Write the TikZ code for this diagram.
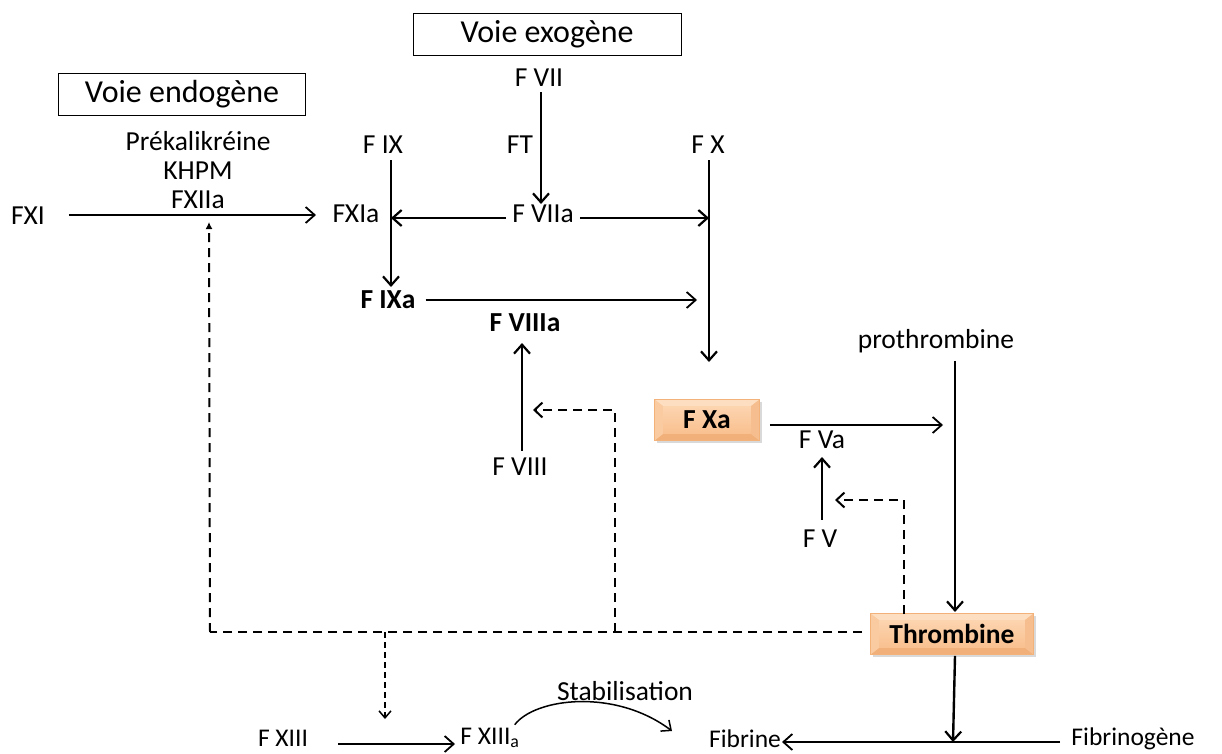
\documentclass[tikz,border=0pt]{standalone}
\usepackage{fontspec}
\setmainfont{Carlito}
\usetikzlibrary{arrows.meta,shadows}
\definecolor{bevT}{RGB}{253,222,192}
\definecolor{bevL}{RGB}{250,203,160}
\definecolor{bevR}{RGB}{246,190,142}
\definecolor{bevB}{RGB}{241,176,122}
\definecolor{faceT}{RGB}{252,212,175}
\definecolor{faceB}{RGB}{249,192,143}
\definecolor{edge}{RGB}{242,178,122}
\begin{document}
\begin{tikzpicture}[x=1pt,y=-1pt,
  lbl/.style={font=\fontsize{27.5}{30}\selectfont, inner sep=0pt},
  blbl/.style={font=\bfseries\fontsize{27.5}{30}\selectfont, inner sep=0pt},
  cal/.style={font=\fontsize{25.5}{28}\selectfont, inner sep=0pt},
  titlebox/.style={draw, line width=1pt, font=\fontsize{32}{34}\selectfont, minimum height=42pt, inner xsep=10pt},
  obox/.style={top color=faceT, bottom color=faceB, draw=edge, line width=0.8pt, minimum height=41pt,
     drop shadow={opacity=0.3,shadow xshift=2pt,shadow yshift=-2.5pt},
     path picture={
       \path (path picture bounding box.north west) coordinate (nw) (path picture bounding box.south east) coordinate (se)
             (path picture bounding box.north east) coordinate (ne) (path picture bounding box.south west) coordinate (sw);
       \fill[bevT] (nw) -- (ne) -- ([xshift=-9pt,yshift=-7pt]ne) -- ([xshift=9pt,yshift=-7pt]nw) -- cycle;
       \fill[bevB] (sw) -- (se) -- ([xshift=-9pt,yshift=7pt]se) -- ([xshift=9pt,yshift=7pt]sw) -- cycle;
       \fill[bevL] (nw) -- (sw) -- ([xshift=9pt,yshift=7pt]sw) -- ([xshift=9pt,yshift=-7pt]nw) -- cycle;
       \fill[bevR] (ne) -- (se) -- ([xshift=-9pt,yshift=7pt]se) -- ([xshift=-9pt,yshift=-7pt]ne) -- cycle;
       \shade[top color=faceT, bottom color=faceB] ([xshift=9pt,yshift=-7pt]nw) rectangle ([xshift=-9pt,yshift=7pt]se);
     }},
  arr/.style={-{Straight Barb[length=9pt,width=16pt,line width=2.2pt]}, line width=2.4pt},
  tarr/.style={-{Straight Barb[length=9pt,width=16pt,line width=1.8pt]}, line width=1.8pt},
  dsh/.style={dash pattern=on 9pt off 6pt, line width=2pt},
  dsharr/.style={dsh, -{Straight Barb[length=8pt,width=15pt,line width=2pt]}},
]
\useasboundingbox (0,0) rectangle (1222,753);
% title boxes
\node[titlebox, minimum width=268pt] (exo) at (547,34) {Voie exogène};
\node[titlebox, minimum width=247pt] (endo) at (182,94) {Voie endogène};
% labels
\node[lbl] (f7) at (539,78) {F VII};
\node[lbl] (ft) at (520,145) {FT};
\node[lbl] (f9) at (383,145) {F IX};
\node[lbl] (f10) at (708,145) {F X};
\node[lbl] (prek) at (198,141) {Prékalikréine};
\node[lbl] (khpm) at (198,171) {KHPM};
\node[lbl] (f12a) at (198,200) {FXIIa};
\node[lbl] (f11) at (28,216) {FXI};
\node[lbl] (f11a) at (356,214) {FXIa};
\node[lbl] (f7a) at (543,214) {F VIIa};
\node[blbl] (f9a) at (388,300) {F IXa};
\node[blbl] (f8a) at (525,323) {F VIIIa};
\node[lbl] (f8) at (520,467) {F VIII};
\node[lbl] (proth) at (936,341) {prothrombine};
\node[lbl] (f5a) at (822,440) {F Va};
\node[lbl] (f5) at (820,539) {F V};
\node[obox, blbl, minimum width=105pt] (f10a) at (707,420) {F Xa};
\node[obox, blbl, minimum width=163pt] (thr) at (952,634) {Thrombine};
\node[cal] (f13) at (283,738) {F XIII};
\node[cal] (f13a) at (490,738) {F XIII\textsubscript{a}};
\node[lbl] (stab) at (625,691) {Stabilisation};
\node[cal] (fib) at (745,739) {Fibrine};
\node[cal] (fibg) at (1133,739) {Fibrinogène};
% coordinates
\coordinate (vx9) at (391,218);
\coordinate (vx10) at (709,218);
\coordinate (cfib) at (953,742);
\coordinate (fgs) at (1060,742);
\coordinate (fbe) at (782,742);
\coordinate (d1) at (615,632);
\coordinate (d1t) at (615,410);
\coordinate (d2) at (904,614);
\coordinate (d2t) at (904,500);
\coordinate (dl) at (210,632);
\coordinate (dm) at (385,632);
% solid arrows
\draw[arr] (f7.south) ++(2,5) -- (541,204);
\draw[arr] (f9.south) ++(8,6) -- (391,287);
\draw[arr] (f10.south) ++(1,6) -- (709,362);
\draw[tarr] (f11.east) ++(24,-1) -- (316,215);
\draw[arr] (f7a.west) ++(-6,4) -- (vx9);
\draw[arr] (f7a.east) ++(6,4) -- (vx10);
\draw[tarr] (f9a.east) ++(10,0) -- (697,300);
\draw[arr] (f8.north) ++(2,-7) -- (522,343);
\draw[tarr] (f10a.east) ++(10,5) -- (943,425);
\draw[arr] (proth.south) ++(19,8) -- (955,612);
\draw[arr] (f5.north) ++(2,-10) -- (822,457);
\draw[arr] (thr.south) ++(3,1) -- (cfib);
\draw[tarr] (fgs) -- (fbe);
\draw[tarr] (f13.east) ++(30,6) -- (455,744);
\draw[-{Straight Barb[length=8pt,width=14pt,line width=1.5pt]}, line width=1.5pt] (f13a.north east) ++(-5,-3) .. controls (535,698) and (615,688) .. (672,731);
% dashed
\draw[dsh] (thr.west) ++(-8,-2) -- (dl);
\draw[dsh, -{Latex[length=7pt,width=7pt]}] (dl) -- (209,222);
\draw[dsharr] (d1) -- (d1t) -- (533,410);
\draw[dsharr] (d2) -- (d2t) -- (835,500);
\draw[dash pattern=on 6pt off 4pt, line width=1.5pt, -{Straight Barb[length=7pt,width=12pt,line width=1.5pt]}] (dm) -- (385,719);
\end{tikzpicture}
\end{document}
